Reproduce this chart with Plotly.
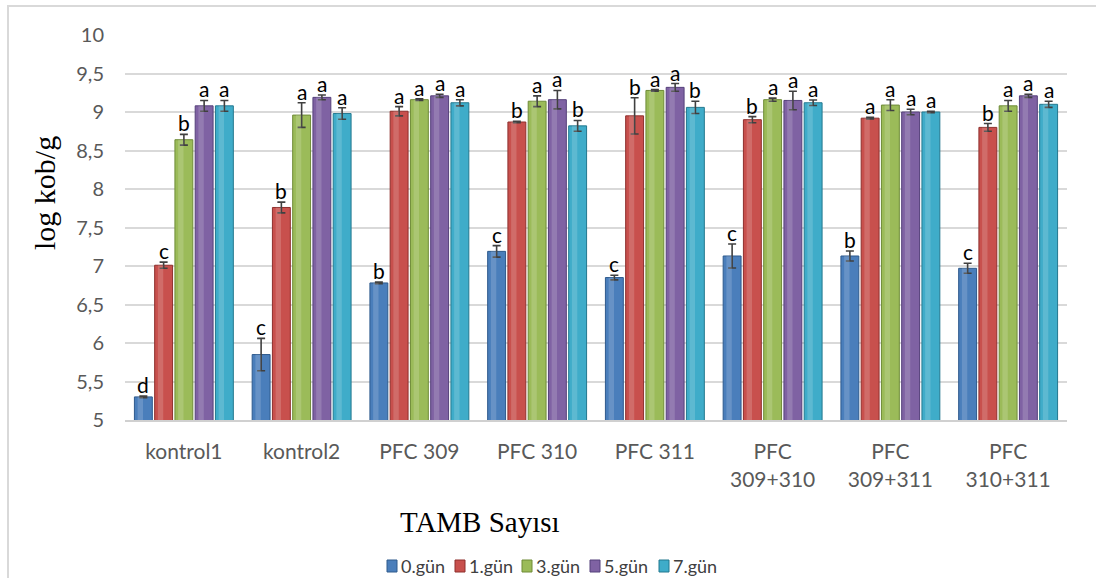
import plotly.graph_objects as go

# Groups on the x axis (line breaks as printed under the axis)
groups = ["kontrol1", "kontrol2", "PFC 309", "PFC 310", "PFC 311",
          "PFC<br>309+310", "PFC<br>309+311", "PFC<br>310+311"]

# Series: sampling day
days = ["0.gün", "1.gün", "3.gün", "5.gün", "7.gün"]

# Mean log kob/g per day (one list per series, one value per group)
day0 = [5.30, 5.85, 6.78, 7.19, 6.85, 7.13, 7.13, 6.97]
day1 = [7.01, 7.76, 9.01, 8.87, 8.95, 8.90, 8.92, 8.80]
day3 = [8.64, 8.96, 9.16, 9.14, 9.28, 9.16, 9.09, 9.08]
day5 = [9.08, 9.19, 9.21, 9.16, 9.32, 9.15, 9.00, 9.21]
day7 = [9.08, 8.98, 9.12, 8.82, 9.06, 9.12, 9.00, 9.10]

# Standard deviations
err0 = [0.01, 0.21, 0.01, 0.075, 0.03, 0.155, 0.065, 0.065]
err1 = [0.04, 0.07, 0.06, 0.01, 0.235, 0.04, 0.01, 0.05]
err3 = [0.07, 0.16, 0.01, 0.07, 0.01, 0.02, 0.07, 0.07]
err5 = [0.07, 0.03, 0.02, 0.12, 0.05, 0.12, 0.035, 0.02]
err7 = [0.07, 0.075, 0.04, 0.07, 0.08, 0.035, 0.01, 0.04]

# Significance letters
let0 = ["d", "c", "b", "c", "c", "c", "b", "c"]
let1 = ["c", "b", "a", "b", "b", "b", "a", "b"]
let3 = ["b", "a", "a", "a", "a", "a", "a", "a"]
let5 = ["a", "a", "a", "a", "a", "a", "a", "a"]
let7 = ["a", "a", "a", "b", "b", "a", "a", "a"]

y_ticks = [5, 5.5, 6, 6.5, 7, 7.5, 8, 8.5, 9, 9.5, 10]
y_tick_text = ["5", "5,5", "6", "6,5", "7", "7,5", "8", "8,5", "9", "9,5", "10"]

series = [
    (days[0], day0, err0, let0, "#4A7EBB", "#2E5A8C"),
    (days[1], day1, err1, let1, "#C8504D", "#8E2F2C"),
    (days[2], day3, err3, let3, "#9BBB59", "#6E8B37"),
    (days[3], day5, err5, let5, "#7F62A3", "#55407A"),
    (days[4], day7, err7, let7, "#3FACC9", "#23788F"),
]

# Plot-area geometry in pixels, used to place paper-anchored items
PL, PR, PT, PB = 125, 1067, 35, 420
def px_x(p):
    return (p - PL) / (PR - PL)
def px_y(p):
    return (PB - p) / (PB - PT)

slot = 0.172     # horizontal room for one bar inside a group
bar_w = 0.152    # drawn bar width
xs = list(range(len(groups)))

fig = go.Figure()
annotations = []
shapes = []
for j, (name, vals, errs, lets, color, edge) in enumerate(series):
    centre = (j - 2) * slot
    fig.add_trace(go.Bar(
        name=name, x=xs, y=vals, base=0,
        width=bar_w, offset=centre - bar_w / 2,
        marker=dict(color=color, line=dict(color=edge, width=1)),
        error_y=dict(type="data", array=errs, visible=True,
                     color="#404040", thickness=1.6, width=4),
        showlegend=False,
    ))
    # soft highlight stripe giving the bars a rounded look
    hw = bar_w * 0.30
    fig.add_trace(go.Bar(
        name=name, x=xs, y=vals, base=0,
        width=hw, offset=centre - bar_w / 2 + bar_w * 0.18,
        marker=dict(color="rgba(255,255,255,0.16)", line=dict(width=0)),
        showlegend=False, hoverinfo="skip",
    ))
    for i, (v, e, t) in enumerate(zip(vals, errs, lets)):
        annotations.append(dict(
            x=i + centre, y=v + e, text=t, showarrow=False,
            xref="x", yref="y", yanchor="bottom", yshift=-3,
            font=dict(family="Lato", size=21, color="#000000"),
        ))

# Legend: swatch + label per day
leg_x = [387, 455, 522, 590, 659]
leg_y = 566
for (name, _, _, _, color, edge), lx in zip(series, leg_x):
    shapes.append(dict(type="rect", xref="paper", yref="paper",
                       x0=px_x(lx), x1=px_x(lx + 10),
                       y0=px_y(leg_y + 6), y1=px_y(leg_y - 6),
                       fillcolor=color, line=dict(color=edge, width=1)))
    annotations.append(dict(x=px_x(lx + 12), y=px_y(leg_y), xref="paper", yref="paper",
                            text=name, showarrow=False, xanchor="left", yanchor="middle",
                            font=dict(family="Lato", size=18, color="#404040")))

# Axis titles
annotations.append(dict(
    x=px_x(480), y=px_y(522), xref="paper", yref="paper", text="TAMB Sayısı",
    showarrow=False, xanchor="center", yanchor="middle",
    font=dict(family="Liberation Serif", size=29, color="#000000"),
))
annotations.append(dict(
    x=px_x(44), y=px_y(193), xref="paper", yref="paper", text="log kob/g",
    showarrow=False, textangle=-90, xanchor="center", yanchor="middle",
    font=dict(family="Liberation Serif", size=30, color="#000000"),
))

# Chart-area border (runs off the right and bottom edges)
shapes.append(dict(type="rect", xref="paper", yref="paper",
                   x0=px_x(8), x1=px_x(1120), y0=px_y(600), y1=px_y(6),
                   line=dict(color="#D9D9D9", width=2), fillcolor="rgba(0,0,0,0)",
                   layer="below"))

fig.update_layout(
    width=1096, height=578,
    margin=dict(l=PL, r=1096 - PR, t=PT, b=578 - PB),
    paper_bgcolor="white", plot_bgcolor="white",
    barmode="overlay",
    showlegend=False,
    annotations=annotations,
    shapes=shapes,
    xaxis=dict(range=[-0.5, 7.5], tickvals=xs, ticktext=groups,
               showgrid=False, zeroline=False, showline=True,
               linecolor="#D0D0D0", linewidth=2, ticks="",
               ticklabelstandoff=12,
               tickfont=dict(family="Lato", size=21, color="#595959")),
    yaxis=dict(range=[5, 10], tickvals=y_ticks, ticktext=y_tick_text,
               showgrid=True, gridcolor="#D9D9D9", gridwidth=2,
               zeroline=False, showline=False, ticks="",
               ticklabelstandoff=20,
               tickfont=dict(family="Lato", size=20, color="#595959")),
)

fig.write_html("out.html")
